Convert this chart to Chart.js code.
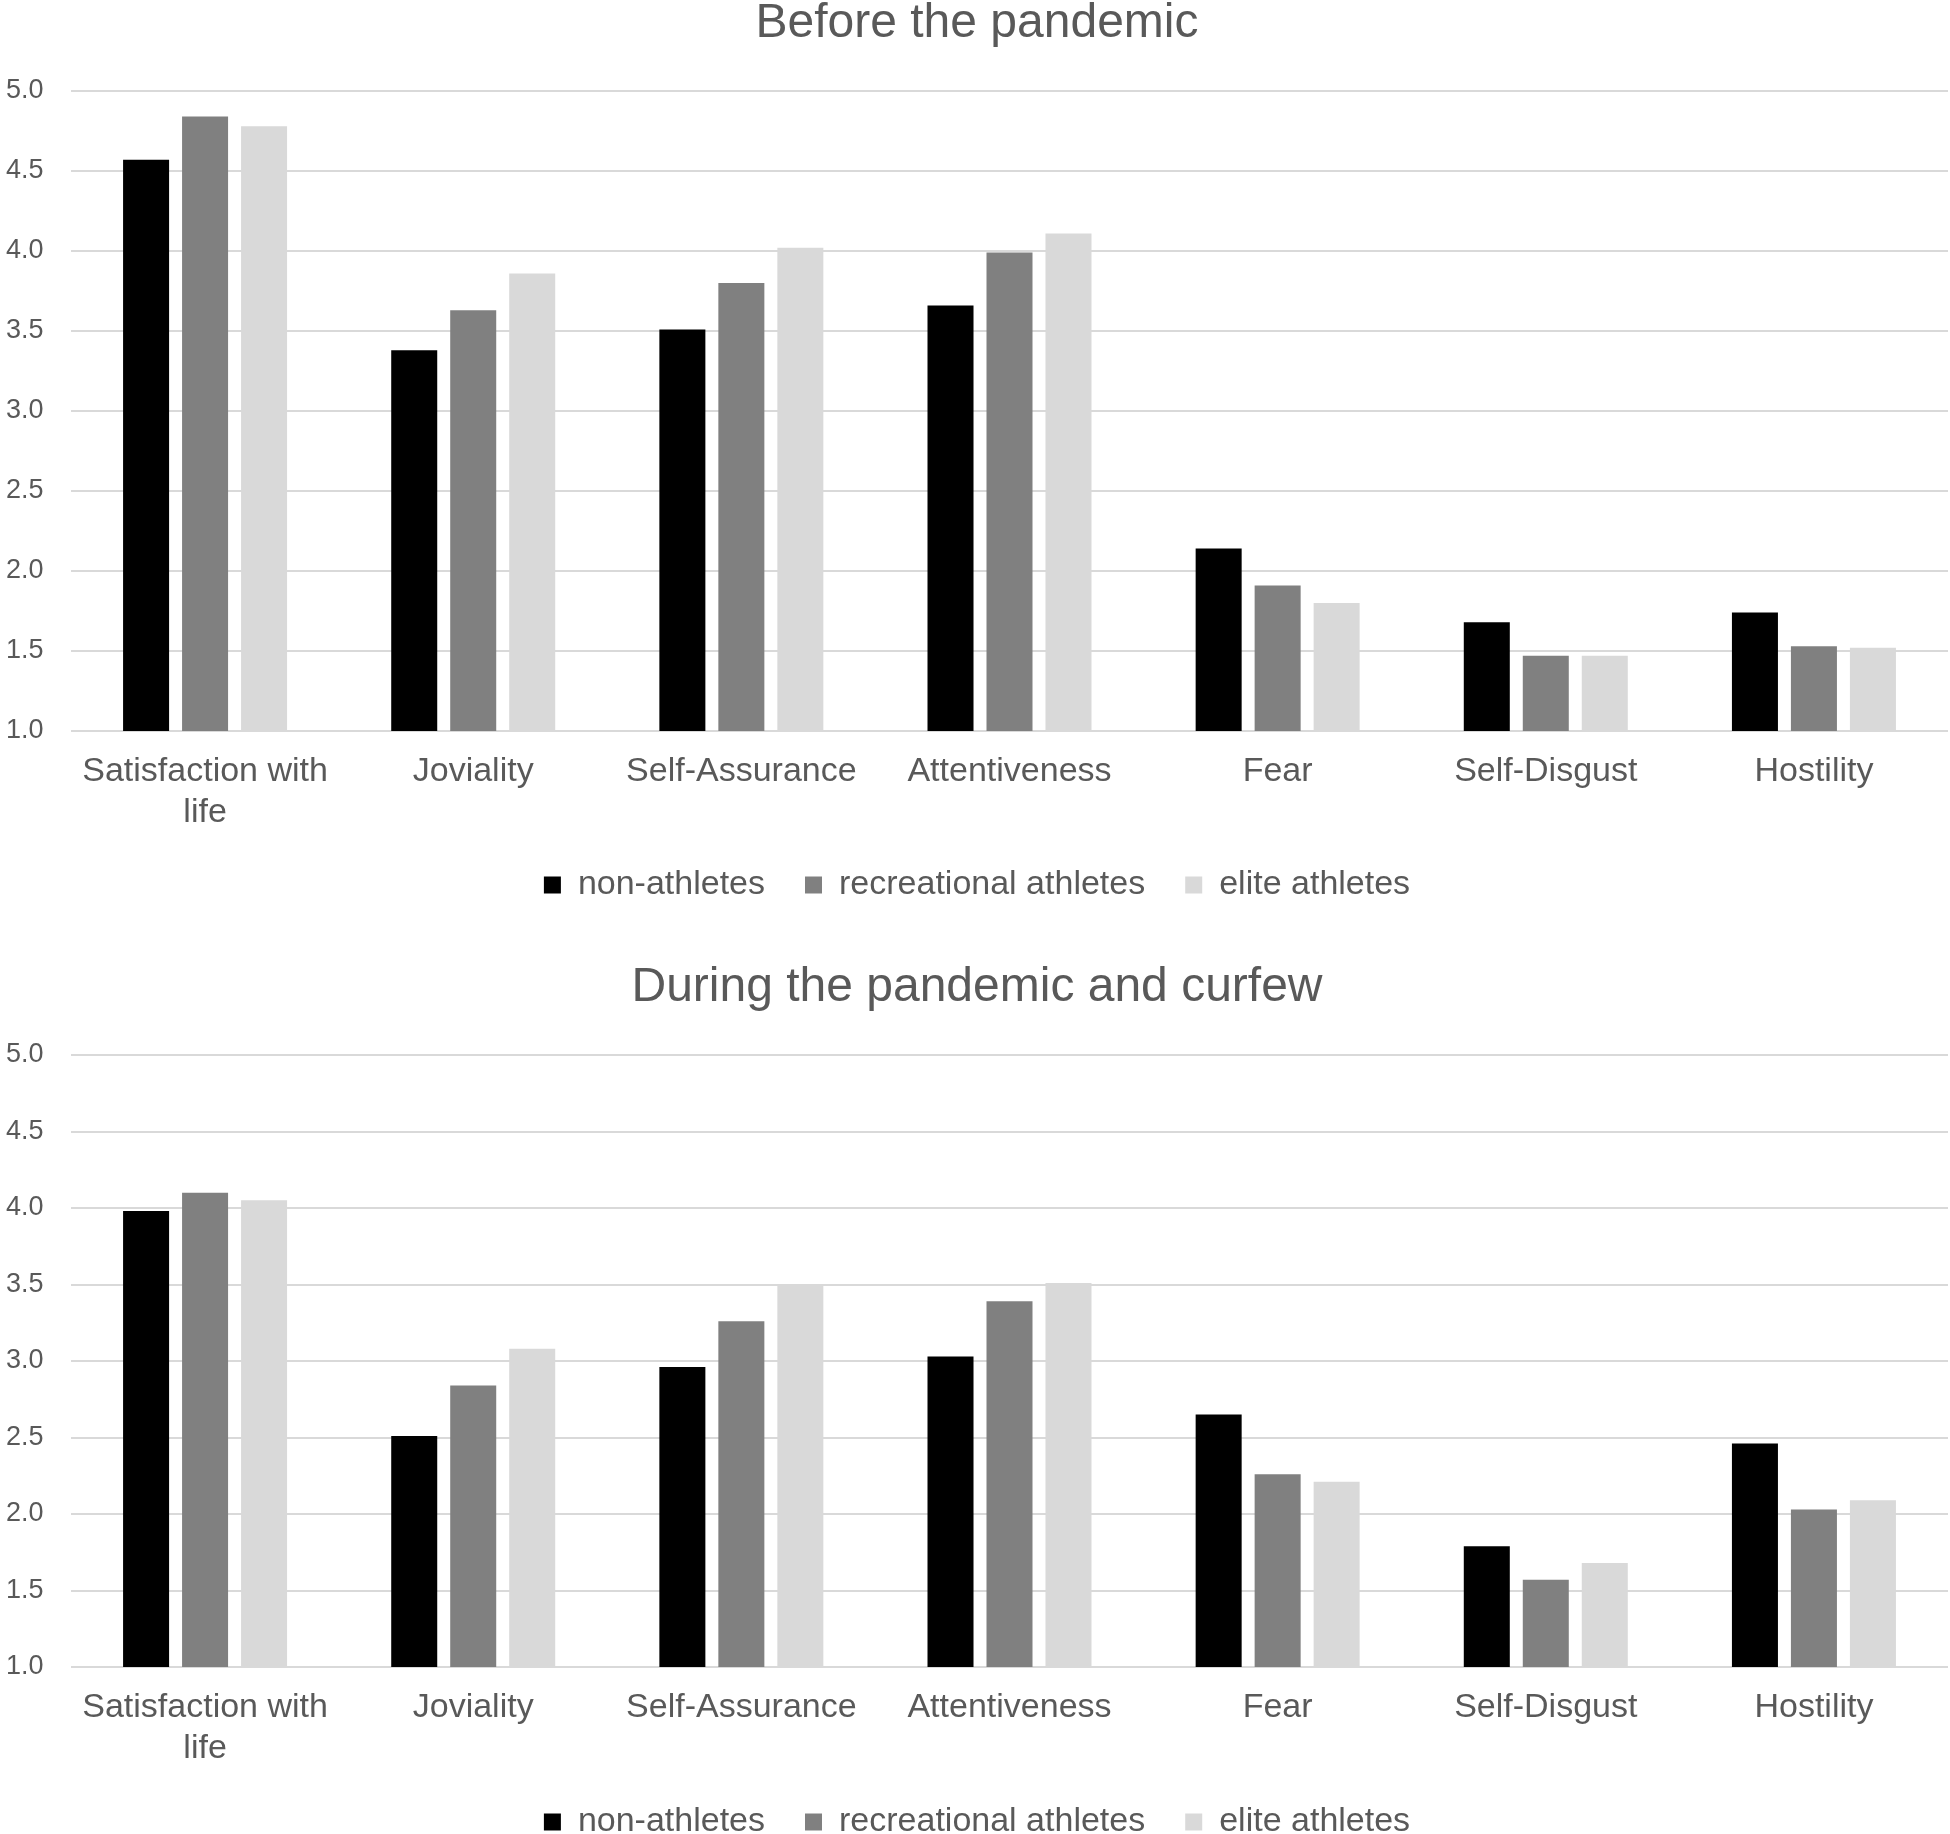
<!DOCTYPE html>
<html>
<head>
<meta charset="utf-8">
<script src="https://cdn.jsdelivr.net/npm/chart.js@4.4.1/dist/chart.umd.min.js"></script>
<style>
  html, body { margin: 0; padding: 0; background: #fff; overflow: hidden; }
  .box { position: absolute; left: 0; width: 1950px; height: 930px; }
</style>
</head>
<body>
<div class="box" style="top:0"><canvas id="before" width="1950" height="930"></canvas></div>
<div class="box" style="top:930px"><canvas id="during" width="1950" height="930"></canvas></div>
<script>
const categories = [
  ["Satisfaction with", "life"],
  "Joviality",
  "Self-Assurance",
  "Attentiveness",
  "Fear",
  "Self-Disgust",
  "Hostility",
];
const groups = ["non-athletes", "recreational athletes", "elite athletes"];
const colors = ["#000000", "#808080", "#d9d9d9"];

// before the pandemic
const beforeNon = [4.57, 3.38, 3.51, 3.66, 2.14, 1.68, 1.74];
const beforeRec = [4.84, 3.63, 3.80, 3.99, 1.91, 1.47, 1.53];
const beforeElite = [4.78, 3.86, 4.02, 4.11, 1.80, 1.47, 1.52];

// during the pandemic and curfew
const duringNon = [3.98, 2.51, 2.96, 3.03, 2.65, 1.79, 2.46];
const duringRec = [4.10, 2.84, 3.26, 3.39, 2.26, 1.57, 2.03];
const duringElite = [4.05, 3.08, 3.49, 3.51, 2.21, 1.68, 2.09];

const yTicks = [1.0, 1.5, 2.0, 2.5, 3.0, 3.5, 4.0, 4.5, 5.0];

const FONT = "'Liberation Sans', Arial, sans-serif";
const TEXT = "#595959";

function makeChart(id, title, series, lay) {
  new Chart(document.getElementById(id), {
    type: "bar",
    data: {
      labels: categories,
      datasets: series.map((vals, i) => ({
        label: groups[i],
        data: vals,
        backgroundColor: colors[i],
        borderWidth: 0,
        categoryPercentage: 0.66,
        barPercentage: 0.78,
      })),
    },
    options: {
      responsive: false,
      animation: false,
      devicePixelRatio: 1,
      layout: { padding: { top: lay.top, bottom: lay.bottom, left: 6, right: 2 } },
      plugins: {
        title: {
          display: true,
          text: title,
          color: TEXT,
          font: { family: FONT, size: 48, weight: "normal", lineHeight: 1 },
          padding: { top: 0, bottom: lay.titleGap },
        },
        legend: {
          position: "bottom",
          labels: {
            color: TEXT,
            font: { family: FONT, size: 34 },
            boxWidth: 17,
            boxHeight: 17,
            padding: 40,
          },
        },
        tooltip: { enabled: false },
      },
      scales: {
        y: {
          min: 1,
          max: 5,
          afterBuildTicks: (s) => { s.ticks = yTicks.map((v) => ({ value: v })); },
          afterFit: (s) => { s.width = 65; },
          ticks: {
            color: TEXT,
            font: { family: FONT, size: 27 },
            crossAlign: "far",
            padding: 8,
            callback: (v) => Number(v).toFixed(1),
          },
          grid: { color: "#d9d9d9", lineWidth: 2, drawTicks: false },
          border: { display: false },
        },
        x: {
          afterFit: (s) => { s.height = lay.xHeight; },
          ticks: {
            color: TEXT,
            font: { family: FONT, size: 34, lineHeight: 1.2 },
            padding: 12,
            maxRotation: 0,
            autoSkip: false,
          },
          grid: { display: false },
          border: { display: false },
        },
      },
    },
  });
}

makeChart("before", "Before the pandemic", [beforeNon, beforeRec, beforeElite],
  { top: 0, titleGap: 43, xHeight: 97, bottom: 18 });
makeChart("during", "During the pandemic and curfew", [duringNon, duringRec, duringElite],
  { top: 34, titleGap: 43, xHeight: 98, bottom: 11 });
</script>
</body>
</html>
